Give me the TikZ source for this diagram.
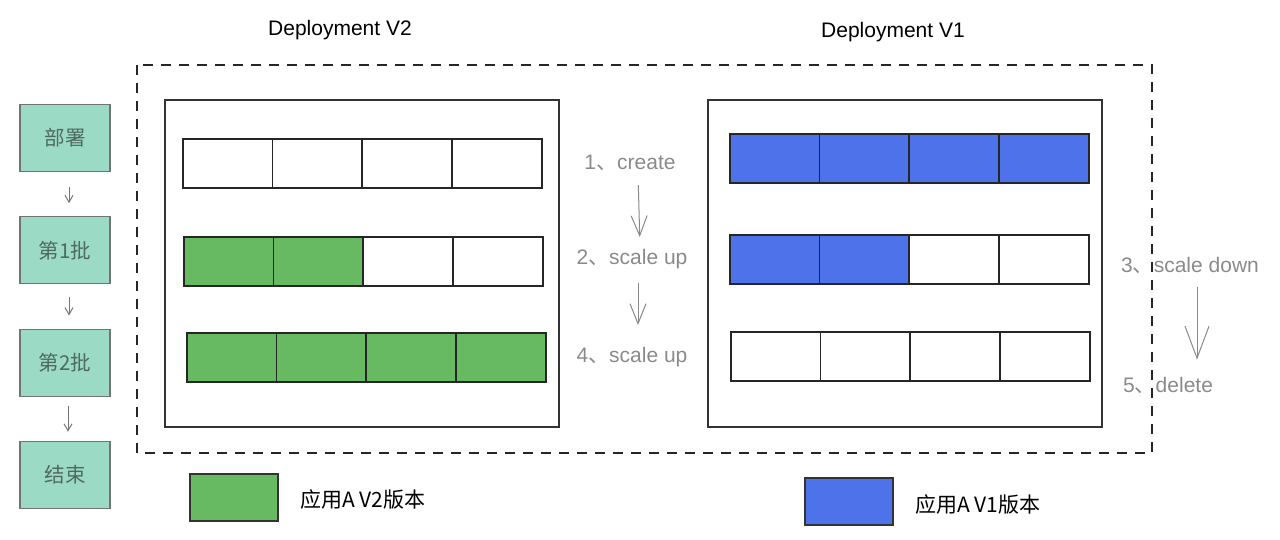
\documentclass[tikz,border=0pt]{standalone}
\usepackage{fontspec}
\setmainfont{Liberation Sans}
\newfontfamily\cjk{Noto Sans CJK SC}
\usetikzlibrary{arrows.meta}
\definecolor{vtwo}{HTML}{67BA62}
\definecolor{vone}{HTML}{4E72EA}
\definecolor{stageteal}{HTML}{9BDAC4}
\definecolor{stagetext}{HTML}{4F6A60}
\definecolor{stepgray}{HTML}{8A8A8A}

\begin{document}
\begin{tikzpicture}[x=1pt,y=-1pt,
		pod/.style={draw=black!85, line width=1.5pt, minimum width=90pt, minimum height=49pt, inner sep=0pt, anchor=north west},
		stage/.style={draw=black!55, fill=stageteal, line width=1.2pt, minimum width=90pt, minimum height=67pt, text=stagetext, font=\cjk\fontsize{20.5}{24}\selectfont},
		steplabel/.style={text=stepgray, font=\fontsize{21}{24}\selectfont, inner sep=2pt},
		steparrow/.style={draw=stepgray, line width=1pt, -{Straight Barb[length=20pt,width=16pt]}},
		stagearrow/.style={draw=black!55, line width=1pt, -{Straight Barb[length=7pt,width=8pt]}}]
		\useasboundingbox (0,0) rectangle (1280,539);
		
		% stages
		\foreach \t [count=\j] in {部署,第1批,第2批,结束} {
			\node[stage] (b\j) at (65,{138+112.3*(\j-1)}) {\t};
		}
		\draw[stagearrow, shorten <=15pt, shorten >=13pt] ([xshift=4pt]b1.south) -- ([xshift=4pt]b2.north);
		\draw[stagearrow, shorten <=13pt, shorten >=13pt] ([xshift=4pt]b2.south) -- ([xshift=4pt]b3.north);
		\draw[stagearrow, shorten <=9pt, shorten >=9pt] ([xshift=3pt]b3.south) -- ([xshift=3pt]b4.north);
		
		% frame and deployments
		\draw[black!85, line width=2pt, dash pattern=on 10pt off 8pt] (137,65) rectangle (1152,453);
		\draw[black!80, line width=1.3pt] (165,100) rectangle (559,427);
		\draw[black!80, line width=1.3pt] (708,100) rectangle (1102,427);
		\node[font=\fontsize{21}{24}\selectfont] (t2) at (340,30) {Deployment V2};
		\node[font=\fontsize{21}{24}\selectfont] (t1) at (893,32) {Deployment V1};
		
		% pods
		\foreach \n/\x/\y/\cols in {La/182/138/{white,white,white,white}, Lb/183/236/{vtwo,vtwo,white,white}, Lc/186/332/{vtwo,vtwo,vtwo,vtwo},
			Ra/729/133/{vone,vone,vone,vone}, Rb/729/234/{vone,vone,white,white}, Rc/730/331/{white,white,white,white}} {
			\foreach \c [count=\i from 0] in \cols {
				\node[pod, fill=\c] (\n\i) at ({\x+89.7*\i},\y) {};
			}
		}
		
		% steps
		\node[steplabel] (s1) at (630,163) {1{\cjk 、}create};
		\node[steplabel] (s2) at (632,259) {2{\cjk 、}scale up};
		\node[steplabel] (s4) at (632,357) {4{\cjk 、}scale up};
		\node[steplabel] (s3) at (1190,265) {3{\cjk 、}scale down};
		\node[steplabel] (s5) at (1168,385) {5{\cjk 、}delete};
		\draw[steparrow, shorten <=12pt, shorten >=10pt] ([xshift=8pt]s1.south) -- ([xshift=8pt]s2.north);
		\draw[steparrow, shorten <=12pt, shorten >=20pt] ([xshift=6pt]s2.south) -- ([xshift=6pt]s4.north);
		\draw[steparrow, -{Straight Barb[length=32pt,width=24pt]}, shorten <=12pt, shorten >=15pt] ([xshift=7pt]s3.south) -- ([xshift=7pt]s3.south |- s5.north);
		
		% legend
		\node[draw=black!80, line width=1.3pt, fill=vtwo, minimum width=88pt, minimum height=47pt] (g2) at (234,497.5) {};
		\node[anchor=west, font=\cjk\fontsize{21}{24}\selectfont, inner sep=0pt] (l2) at (300,499) {应用A V2版本};
		\node[draw=black!80, line width=1.3pt, fill=vone, minimum width=88pt, minimum height=47pt] (g1) at (849,501.5) {};
		\node[anchor=west, font=\cjk\fontsize{21}{24}\selectfont, inner sep=0pt] (l1) at (915,504) {应用A V1版本};
	\end{tikzpicture}
\end{document}
